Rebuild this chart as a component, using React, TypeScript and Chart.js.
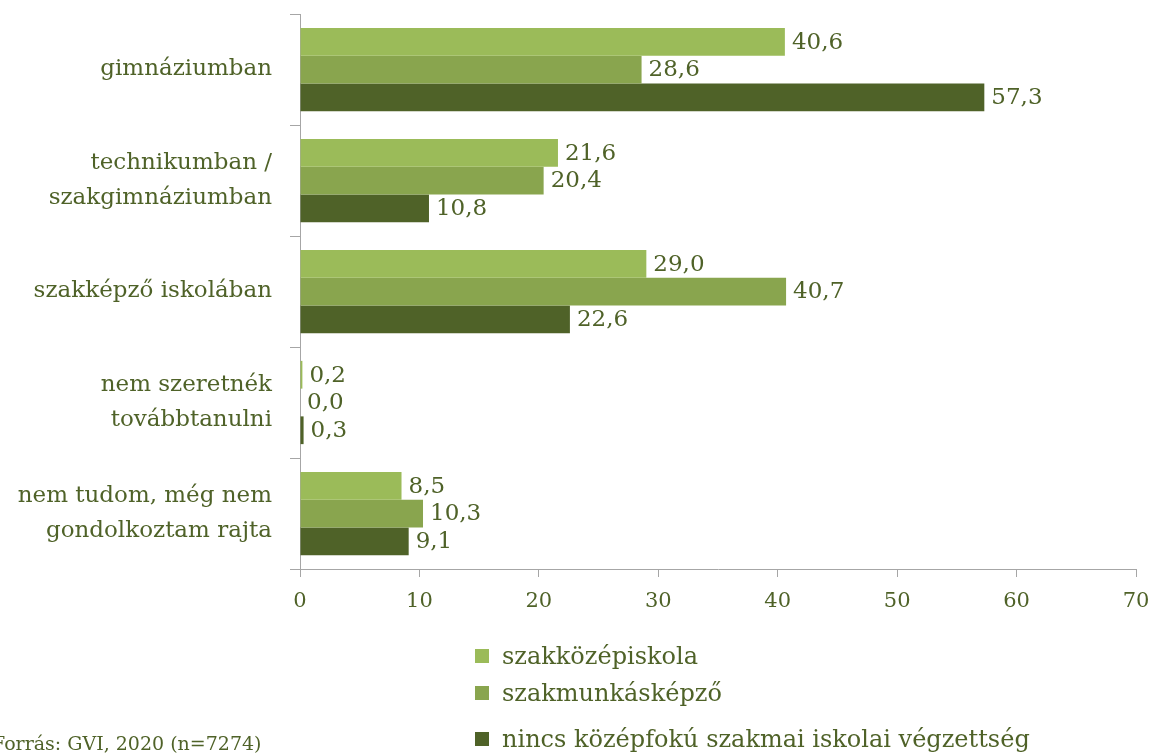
import React, { useEffect, useRef } from "react";
import { Chart, registerables } from "chart.js";

Chart.register(...registerables);

const categories: (string | string[])[] = [
  "gimnáziumban",
  ["technikumban /", "szakgimnáziumban"],
  "szakképző iskolában",
  ["nem szeretnék", "továbbtanulni"],
  ["nem tudom, még nem", "gondolkoztam rajta"],
];
const seriesNames = [
  "szakközépiskola",
  "szakmunkásképző",
  "nincs középfokú szakmai iskolai végzettség",
];
const szakkozep = [40.6, 21.6, 29.0, 0.2, 8.5];
const szakmunkas = [28.6, 20.4, 40.7, 0.0, 10.3];
const nincs = [57.3, 10.8, 22.6, 0.3, 9.1];
const colors = ["#9bbb59", "#89a54e", "#4f6228"];
const xTicks = [0, 10, 20, 30, 40, 50, 60, 70];
const source = "Forrás: GVI, 2020 (n=7274)";

const FONT = "'DejaVu Serif', serif";
const TEXT = "#4f6228";

const valueLabels = {
  id: "valueLabels",
  afterDatasetsDraw(chart: any) {
    const ctx = chart.ctx;
    ctx.save();
    ctx.font = `23px ${FONT}`;
    ctx.fillStyle = TEXT;
    ctx.textBaseline = "middle";
    ctx.textAlign = "left";
    chart.data.datasets.forEach((ds: any, i: number) => {
      const meta = chart.getDatasetMeta(i);
      meta.data.forEach((bar: any, j: number) => {
        const v = ds.data[j] as number;
        ctx.fillText(v.toFixed(1).replace(".", ","), bar.x + 7, bar.y + 1);
      });
    });
    ctx.restore();
  },
};

export default function App() {
  const ref = useRef<HTMLCanvasElement>(null);
  useEffect(() => {
    const data = [szakkozep, szakmunkas, nincs];
    const chart = new Chart(ref.current!, {
      type: "bar",
      data: {
        labels: categories,
        datasets: seriesNames.map((n, i) => ({
          label: n,
          data: data[i],
          backgroundColor: colors[i],
          borderWidth: 0,
          categoryPercentage: 0.75,
          barPercentage: 1.0,
        })),
      },
      options: {
        indexAxis: "y",
        animation: false,
        responsive: false,
        maintainAspectRatio: false,
        layout: { padding: { top: 14, right: 22, bottom: 137, left: 0 } },
        plugins: { legend: { display: false }, tooltip: { enabled: false } },
        scales: {
          x: {
            min: 0,
            max: 70,
            afterBuildTicks: (axis: any) => {
              axis.ticks = xTicks.map((v) => ({ value: v }));
            },
            afterFit: (axis: any) => {
              axis.height = 50;
              axis.paddingLeft = 0;
              axis.paddingRight = 0;
            },
            grid: {
              drawOnChartArea: false,
              drawTicks: true,
              tickLength: 8,
              color: "#a6a6a6",
            },
            border: { display: true, color: "#a6a6a6" },
            ticks: {
              color: TEXT,
              font: { family: FONT, size: 21 },
              padding: 12,
            },
          },
          y: {
            afterFit: (axis: any) => {
              axis.width = 300;
              axis.paddingTop = 0;
              axis.paddingBottom = 0;
            },
            grid: {
              offset: true,
              drawOnChartArea: false,
              drawTicks: true,
              tickLength: 10,
              color: "#a6a6a6",
            },
            border: { display: true, color: "#a6a6a6" },
            ticks: {
              color: TEXT,
              font: { family: FONT, size: 23, lineHeight: 1.52 },
              padding: 18,
            },
          },
        },
      },
      plugins: [valueLabels],
    });
    return () => chart.destroy();
  }, []);

  const legendTops = [641, 678, 724];
  return (
    <div style={{ position: "fixed", left: 0, top: 0, width: 1158, height: 756, background: "#fff", overflow: "hidden" }}>
      <canvas ref={ref} width={1158} height={756} style={{ position: "absolute", left: 0, top: 0 }} />
      {seriesNames.map((n, i) => (
        <div
          key={n}
          style={{
            position: "absolute",
            left: 475,
            top: legendTops[i],
            display: "flex",
            alignItems: "center",
            fontFamily: FONT,
            fontSize: 24,
            lineHeight: "30px",
            color: TEXT,
            whiteSpace: "nowrap",
          }}
        >
          <span style={{ display: "inline-block", width: 14, height: 14, background: colors[i], marginRight: 13 }} />
          {n}
        </div>
      ))}
      <div
        style={{
          position: "absolute",
          left: -8,
          top: 732,
          fontFamily: FONT,
          fontSize: 19,
          color: TEXT,
          whiteSpace: "nowrap",
        }}
      >
        {source}
      </div>
    </div>
  );
}
